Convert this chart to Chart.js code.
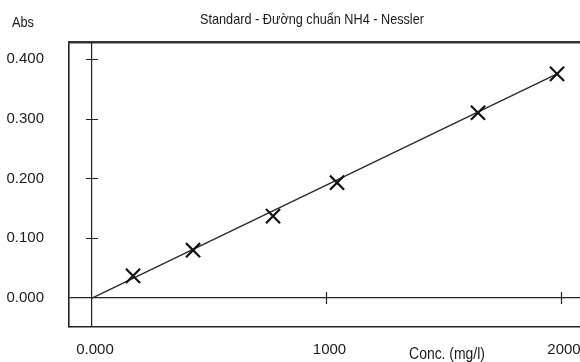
<!DOCTYPE html>
<html>
<head>
<meta charset="utf-8">
<script src="https://cdn.jsdelivr.net/npm/chart.js@4.4.1/dist/chart.umd.min.js"></script>
<style>
  html, body { margin: 0; padding: 0; background: #fff; }
  #wrap { width: 580px; height: 362px; }
</style>
</head>
<body>
<div id="wrap"><canvas id="chart"></canvas></div>
<script>
const conc = [175, 431, 772, 1045, 1646, 1983];
const abs = [0.037, 0.080, 0.137, 0.193, 0.310, 0.375];
const fitConc = [0, 1983];
const fitAbs = [0, 0.375];
const xTicks = [0, 1000, 2000];
const yTicks = [0, 0.1, 0.2, 0.3, 0.4];

const FONT = '"Liberation Sans", Arial, sans-serif';
const INK = "#1a1a1a";
const TITLE = "Standard - Đường chuẩn NH4 - Nessler";

const points = conc.map((c, i) => ({x: c, y: abs[i]}));
const fitLine = fitConc.map((c, i) => ({x: c, y: fitAbs[i]}));

const zeroOnly = (ctx) => (ctx.tick && ctx.tick.value === 0 ? "#222" : "rgba(0,0,0,0)");

// the reference uses a narrow face, squeeze the text a bit
function narrowText(ctx, text, x, y, size, squeeze) {
    ctx.save();
    ctx.font = size + "px " + FONT;
    ctx.translate(x, y);
    ctx.scale(squeeze, 1);
    ctx.fillText(text, 0, 0);
    ctx.restore();
}

const extras = {
    id: "extras",
    afterDraw(chart) {
        const {ctx, scales} = chart;
        const x = scales.x, y = scales.y;
        const x0 = x.getPixelForValue(0);
        const y0 = y.getPixelForValue(0);
        ctx.save();
        ctx.strokeStyle = "#222";
        ctx.lineWidth = 1.2;
        ctx.beginPath();
        yTicks.filter(v => v !== 0).forEach(v => {
            const py = Math.round(y.getPixelForValue(v)) + 0.5;
            ctx.moveTo(x0 - 6, py);
            ctx.lineTo(x0 + 6, py);
        });
        xTicks.filter(v => v !== 0).forEach(v => {
            const px = Math.round(x.getPixelForValue(v)) + 0.5;
            ctx.moveTo(px, y0 - 6);
            ctx.lineTo(px, y0 + 6);
        });
        ctx.stroke();

        ctx.fillStyle = INK;
        ctx.textAlign = "center";
        ctx.textBaseline = "middle";
        narrowText(ctx, TITLE, 312, 20, 15, 0.845);
        narrowText(ctx, "Abs", 23, 23, 15, 0.85);
        narrowText(ctx, "Conc. (mg/l)", 447, 355, 16, 0.87);
        ctx.restore();
    }
};

new Chart(document.getElementById("chart"), {
    type: "scatter",
    data: {
        datasets: [
            {
                data: points,
                pointStyle: "crossRot",
                pointRadius: 10,
                pointHoverRadius: 10,
                pointBorderWidth: 2.2,
                borderColor: "#111",
                backgroundColor: "#111",
                order: 0
            },
            {
                type: "line",
                data: fitLine,
                borderColor: "#2a2a2a",
                borderWidth: 1.4,
                pointRadius: 0,
                fill: false,
                order: 1
            }
        ]
    },
    options: {
        responsive: true,
        maintainAspectRatio: false,
        animation: false,
        layout: {autoPadding: false, padding: {left: 0, right: 0, top: 42, bottom: 0}},
        plugins: {
            legend: {display: false},
            tooltip: {enabled: false},
            title: {display: false}
        },
        scales: {
            x: {
                type: "linear",
                position: "bottom",
                min: -98,
                max: 2081,
                afterBuildTicks: (s) => { s.ticks = xTicks.map(v => ({value: v})); },
                afterFit: (s) => { s.height = 35; },
                ticks: {
                    color: INK,
                    font: {family: FONT, size: 15},
                    padding: 2,
                    labelOffset: 3,
                    maxRotation: 0,
                    callback: (v) => (v === 0 ? "0.000" : String(v))
                },
                grid: {color: zeroOnly, lineWidth: 1.2, drawTicks: true, tickLength: 12, tickColor: "rgba(0,0,0,0)"},
                border: {display: true, color: "#222", width: 1.6}
            },
            y: {
                type: "linear",
                position: "left",
                min: -0.0485,
                max: 0.4284,
                afterBuildTicks: (s) => { s.ticks = yTicks.map(v => ({value: v})); },
                afterFit: (s) => { s.width = 69; },
                ticks: {
                    color: INK,
                    font: {family: FONT, size: 15},
                    padding: 2,
                    callback: (v) => Number(v).toFixed(3)
                },
                grid: {color: zeroOnly, lineWidth: 1.2, drawTicks: true, tickLength: 23, tickColor: "rgba(0,0,0,0)"},
                border: {display: true, color: "#222", width: 1.6}
            },
            xTop: {
                type: "linear",
                position: "top",
                min: -98,
                max: 2081,
                afterFit: (s) => { s.height = 0; },
                ticks: {display: false},
                grid: {display: false, drawTicks: false},
                border: {display: true, color: "#333", width: 2.6}
            }
        }
    },
    plugins: [extras]
});
</script>
</body>
</html>
